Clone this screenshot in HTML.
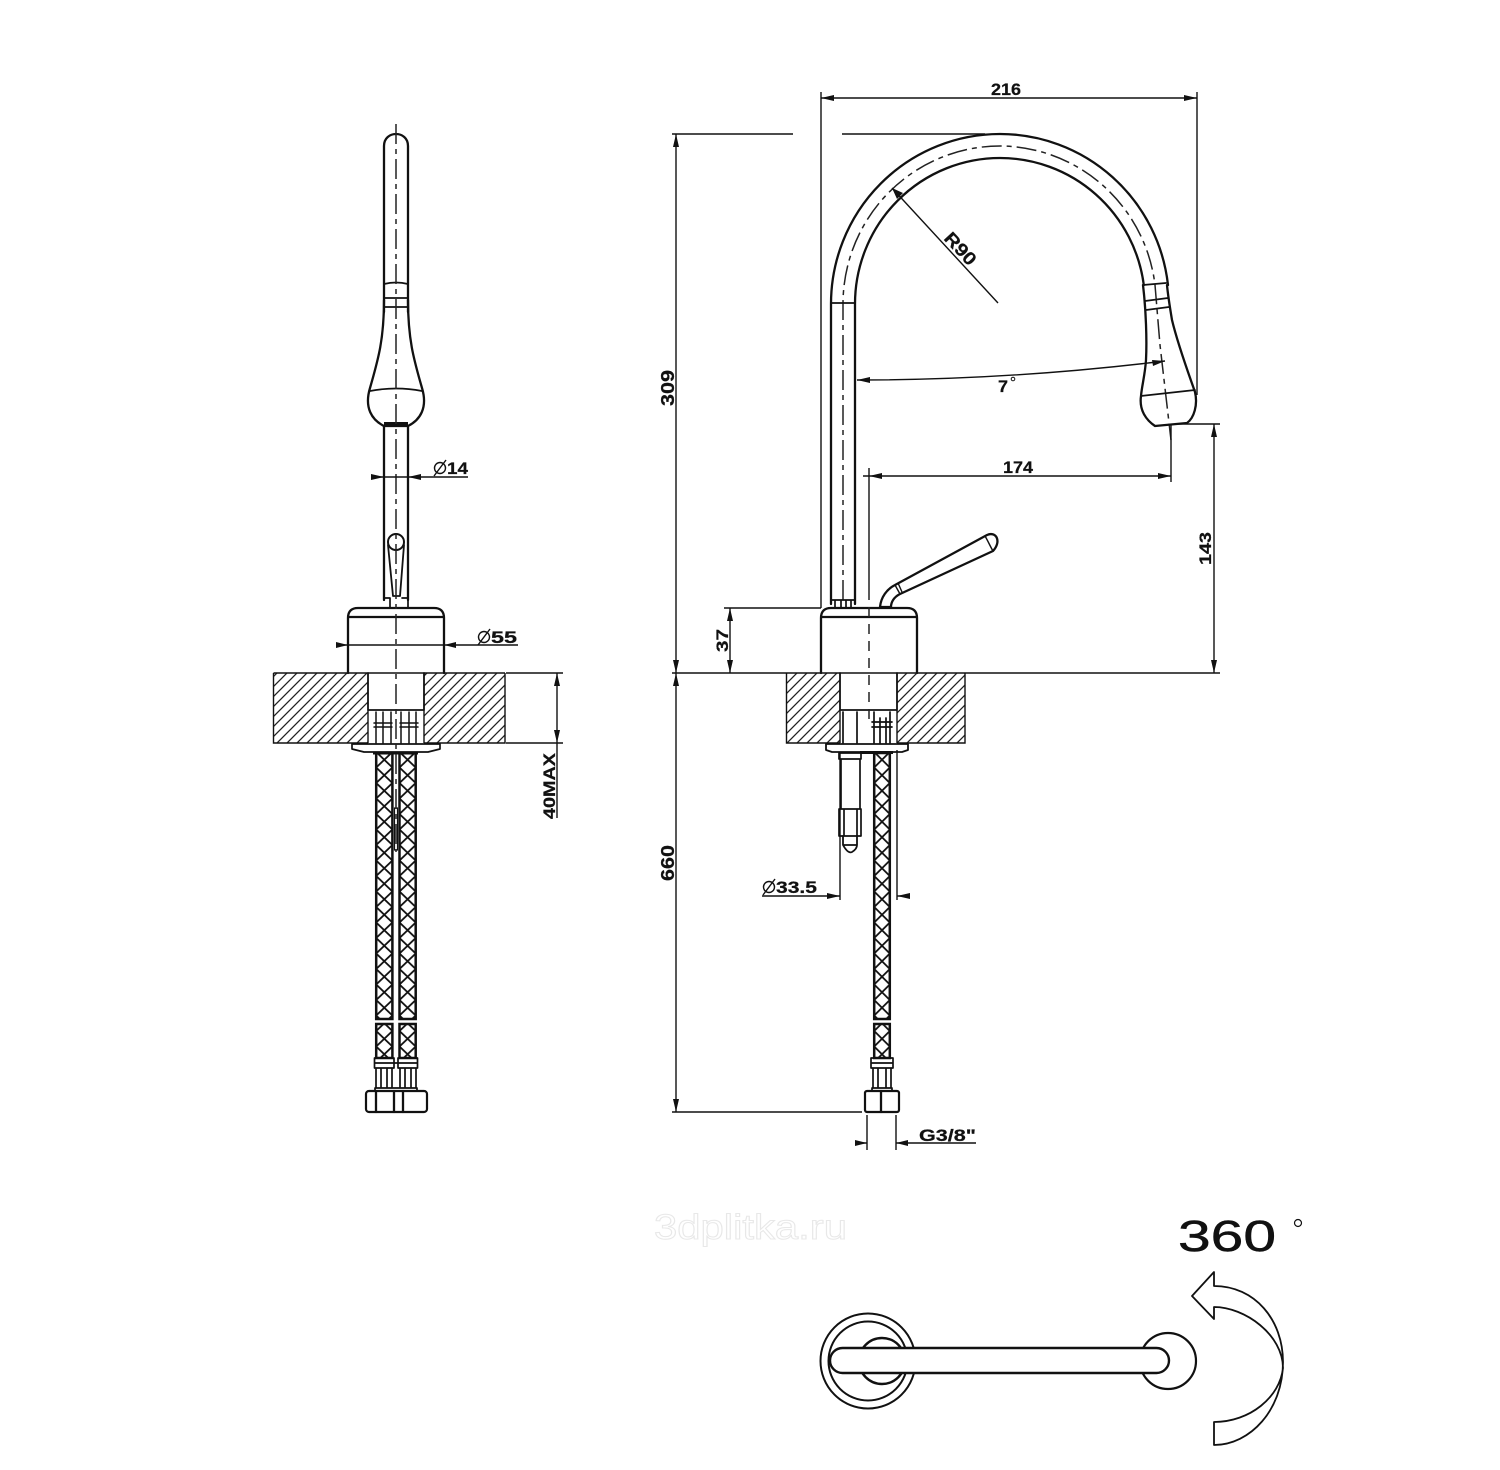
<!DOCTYPE html>
<html><head><meta charset="utf-8"><title>Drawing</title>
<style>html,body{margin:0;padding:0;background:#fff}svg{display:block}
text{font-family:"Liberation Sans",sans-serif;font-weight:bold;fill:#111;font-size:17px;stroke:#111;stroke-width:.25}
.k{fill:none;stroke:#111;stroke-width:2.3;stroke-linejoin:round;stroke-linecap:round}
.t{fill:none;stroke:#111;stroke-width:1.4}
.c{fill:none;stroke:#222;stroke-width:1.5;stroke-dasharray:20 5 5 5}
.d{fill:none;stroke:#222;stroke-width:1.5;stroke-dasharray:10 7}
.a{fill:#111;stroke:none}
</style></head><body>
<svg xmlns="http://www.w3.org/2000/svg" width="1500" height="1470" viewBox="0 0 1500 1470">
<defs>
<pattern id="h" width="10" height="10" patternUnits="userSpaceOnUse"><path d="M-2 12L12 -2M-2 2L2 -2M8 12L12 8" stroke="#222" stroke-width="1.3"/></pattern>
<pattern id="p1" x="376.200" y="752" width="16.200" height="15.500" patternUnits="userSpaceOnUse"><path d="M0 0L16.200 15.500M16.200 0L0 15.500" stroke="#111" stroke-width="1.8"/></pattern>
<pattern id="p2" x="399.500" y="752" width="16.200" height="15.500" patternUnits="userSpaceOnUse"><path d="M0 0L16.200 15.500M16.200 0L0 15.500" stroke="#111" stroke-width="1.8"/></pattern>
<pattern id="p3" x="874.200" y="752" width="15.600" height="15.500" patternUnits="userSpaceOnUse"><path d="M0 0L15.600 15.500M15.600 0L0 15.500" stroke="#111" stroke-width="1.8"/></pattern>
</defs>

<!-- LEFT VIEW -->
<path class="k" d="M384 312V146C384 130 408 130 408 146V312"/>
<path class="k" d="M384 284Q396 281 408 284M384 298H408M384 307H408" style="stroke-width:1.7"/>
<path class="k" d="M384 300C384 340 378 360 370 388C364 408 372 420 384 426H408C420 420 428 408 422 388C414 360 408 340 408 300"/>
<path class="k" d="M370 391Q396 386 422 391" style="stroke-width:1.7"/>
<path d="M384 424H408" stroke="#111" stroke-width="4"/>
<path class="k" d="M384 426V600M408 426V600"/>
<path class="k" d="M384 598H390V608M402 598H408V608M390 598V608" style="stroke-width:1.7"/>
<circle cx="396" cy="542" r="8" fill="#fff" stroke="#111" stroke-width="2"/>
<path class="k" d="M388 545L393 596H400L404 545" style="stroke-width:1.8"/>
<path class="k" d="M348 673V618Q348 608 358 608H434Q444 608 444 618V673M348 617H444"/>
<rect x="273.500" y="673" width="94.500" height="70" fill="url(#h)"/>
<rect x="424" y="673" width="81" height="70" fill="url(#h)"/>
<path class="t" d="M273.500 673V743H368M424 743H505V673M273.500 673H505"/>
<path class="k" d="M368 673V710H424V673" style="stroke-width:1.8"/>
<path class="t" d="M368 710V743M424 710V743"/>
<path class="k" d="M376 712V743M383 712V743M391 712V743M401 712V743M409 712V743M416 712V743M374 723H392M374 727H392M400 723H418M400 727H418" style="stroke-width:1.5"/>
<path class="k" d="M352 744H440V749L428 752H364L352 749Z" style="stroke-width:1.7;fill:#fff"/>
<path d="M373 753H418" stroke="#111" stroke-width="3"/>
<rect x="376.200" y="753" width="16.200" height="266" fill="url(#p1)" stroke="#111" stroke-width="2.500"/>
<rect x="399.500" y="753" width="16.200" height="266" fill="url(#p2)" stroke="#111" stroke-width="2.500"/>
<rect x="376.200" y="1024" width="16.200" height="34" fill="url(#p1)" stroke="#111" stroke-width="2.500"/>
<rect x="399.500" y="1024" width="16.200" height="34" fill="url(#p2)" stroke="#111" stroke-width="2.500"/>
<path class="k" d="M374.500 1058H394V1068H374.500ZM398 1058H417.500V1068H398ZM375 1063H417M376 1068V1088M381 1068V1088M387 1068V1088M392 1068V1088M400 1068V1088M405 1068V1088M411 1068V1088M416 1068V1088M375 1088H417V1091H375Z" style="stroke-width:1.7"/>
<rect x="366" y="1091" width="61" height="21" rx="3" fill="#fff" stroke="#111" stroke-width="2.200"/>
<path class="k" d="M376 1091V1112M394 1091V1112M403 1091V1112"/>
<rect x="394.500" y="808" width="3" height="42" fill="#fff" stroke="#111" stroke-width="1.200"/>
<path class="c" d="M396 124V852"/>

<!-- RIGHT VIEW -->
<path class="k" d="M831 604V304A169 170 0 0 1 1000 134A169 170 0 0 1 1168 285M855 604V304A145 146 0 0 1 1000 158A145 146 0 0 1 1143.800 285"/>
<path class="c" d="M843 600V304A157 158 0 0 1 1000 146A157 158 0 0 1 1155 285L1160 345L1171 440"/>
<path class="k" d="M831 303H855" style="stroke-width:1.7"/>
<path class="k" d="M1143 285L1166 283M1145 301L1168 298M1146 310L1169 307" style="stroke-width:1.7"/>
<path class="k" d="M1143 285C1146 310 1147 340 1146 360C1145 375 1142 385 1141 396C1139 410 1146 420 1155 426L1187 423C1194 418 1198 405 1195 392C1188 372 1178 345 1172 320C1170 308 1168 296 1167 285"/>
<path class="k" d="M1141 396L1195 390" style="stroke-width:1.7"/>
<path class="k" d="M831 600H855M835 600V607M851 600V607M841 600V607M846 600V607" style="stroke-width:1.7"/>
<path class="k" d="M821 673V618Q821 608 831 608H907Q917 608 917 618V673M821 617H917"/>
<path class="k" d="M880 607C881 597 887 589 895 585L987 535C996 531 1002 541 993 551L900 594C894 597 891 602 891 607Z"/>
<path class="t" d="M895 585L900 594M898 583L902 592M985 536C988 541 990 546 993 551"/>
<rect x="786.500" y="673" width="53.500" height="70" fill="url(#h)"/>
<rect x="897" y="673" width="68" height="70" fill="url(#h)"/>
<path class="t" d="M786.500 673V743H840M897 743H965V673"/>
<path class="k" d="M840 673V710H897V673" style="stroke-width:1.8"/>
<path class="t" d="M840 710V743M897 710V743"/>
<path class="k" d="M843 712V743M857 712V743M874 712V743M880 718V743M886 718V743M890 712V743M872 722H892M872 727H892" style="stroke-width:1.7"/>
<path class="k" d="M826 744H908V750L902 752H832L826 750Z" style="stroke-width:1.8;fill:#fff"/>
<path d="M860 752.500H893" stroke="#111" stroke-width="3"/>
<rect x="874.200" y="753" width="15.600" height="266" fill="url(#p3)" stroke="#111" stroke-width="2.500"/>
<rect x="874.200" y="1024" width="15.600" height="34" fill="url(#p3)" stroke="#111" stroke-width="2.500"/>
<path class="k" d="M871 1058H893V1068H871ZM871 1063H893M873 1068V1088M878 1068V1088M886 1068V1088M891 1068V1088M872 1088H892V1091H872Z" style="stroke-width:1.7"/>
<rect x="865" y="1091" width="34" height="21" rx="2" fill="#fff" stroke="#111" stroke-width="2.200"/>
<path class="k" d="M881 1091V1112"/>
<path class="k" d="M839 753H861V759H839ZM841 759V809M860 759V809M839 809H861V836H839ZM844 809V836M857 809V836" style="stroke-width:1.7"/>
<path class="k" d="M843 836V845Q848 854 852 852Q857 849 857 845V836M843 845H857" style="stroke-width:1.8"/>
<path class="d" d="M869 590V720"/>

<!-- DIMENSIONS RIGHT -->
<g class="t">
<path d="M821 92V608M1197 92V395M821 98H1197"/>
<path d="M672 134H793M842 134H985M676 134V1112M672 673H1220M672 1112H862"/>
<path d="M724 608H821M730 608V673"/>
<path d="M1175 424H1220M1214 424V673"/>
<path d="M869 468V590M1171 425V482M863 476H1171"/>
<path d="M857 380Q1010 380 1165 361"/>
<path d="M892 188L998 303"/>
<path d="M840 752V900M897 750V900M762 896H840M897 896H910"/>
<path d="M867 1115V1150M896 1115V1150M855 1143H867M896 1143H976"/>
<path d="M371 477H468M336 645H518M506 673H563M506 743H563M557 673V818"/>
</g>
<g class="a">
<path d="M821 98L834 95V101ZM1197 98L1184 95V101Z"/>
<path d="M676 134L673 147H679ZM676 673L673 660H679ZM676 673L673 686H679ZM676 1112L673 1099H679Z"/>
<path d="M730 608L727 621H733ZM730 673L727 660H733Z"/>
<path d="M1214 424L1211 437H1217ZM1214 673L1211 660H1217Z"/>
<path d="M869 476L882 473V479ZM1171 476L1158 473V479Z"/>
<path d="M857 380L870 377V383ZM1165 361L1152 360 1153 366Z"/>
<path d="M892 188L903 193 897 199Z"/>
<path d="M840 896L827 893V899ZM897 896L910 893V899Z"/>
<path d="M867 1143L855 1140V1146ZM896 1143L908 1140V1146Z"/>
<path d="M384 477L371 474V480ZM408 477L421 474V480Z"/>
<path d="M348 645L336 642V648ZM444 645L456 642V648Z"/>
<path d="M557 673L554 686H560ZM557 743L554 730H560Z"/>
</g>
<g stroke="#111" stroke-width="1.400" fill="none">
<circle cx="440" cy="468" r="5.500"/><path d="M434 476L446 460"/>
<circle cx="484" cy="637" r="5.500"/><path d="M478 645L490 629"/>
<circle cx="769" cy="887" r="5.500"/><path d="M763 895L775 879"/>
</g>
<text x="991" y="95" textLength="30" lengthAdjust="spacingAndGlyphs">216</text>
<text x="1003" y="473" textLength="30" lengthAdjust="spacingAndGlyphs">174</text>
<text x="447" y="474" textLength="21" lengthAdjust="spacingAndGlyphs">14</text>
<text x="491" y="643" textLength="26" lengthAdjust="spacingAndGlyphs">55</text>
<text x="776" y="893" textLength="41" lengthAdjust="spacingAndGlyphs">33.5</text>
<text x="919" y="1141" textLength="57" lengthAdjust="spacingAndGlyphs">G3/8"</text>
<text x="998" y="392" textLength="10" lengthAdjust="spacingAndGlyphs">7</text>
<circle cx="1013" cy="379" r="1.800" fill="none" stroke="#111" stroke-width="1"/>
<text transform="translate(674 406) rotate(-90)" textLength="36" lengthAdjust="spacingAndGlyphs" style="font-size:18px">309</text>
<text transform="translate(674 881) rotate(-90)" textLength="36" lengthAdjust="spacingAndGlyphs" style="font-size:18px">660</text>
<text transform="translate(728 652) rotate(-90)" textLength="23" lengthAdjust="spacingAndGlyphs">37</text>
<text transform="translate(1211 565) rotate(-90)" textLength="33" lengthAdjust="spacingAndGlyphs">143</text>
<text transform="translate(555 819) rotate(-90)" textLength="66" lengthAdjust="spacingAndGlyphs">40MAX</text>
<text transform="translate(943 239) rotate(47)" textLength="38" lengthAdjust="spacingAndGlyphs" style="font-size:18px">R90</text>

<!-- WATERMARK -->
<text x="654" y="1239" textLength="193" lengthAdjust="spacingAndGlyphs" style="fill:#fff;stroke:#e8e8e8;stroke-width:1;font-weight:normal;font-size:35px">3dplitka.ru</text>

<!-- TOP VIEW -->
<circle cx="868" cy="1361" r="47.500" fill="#fff" stroke="#111" stroke-width="2"/>
<circle cx="868" cy="1361" r="39.500" fill="#fff" stroke="#111" stroke-width="2"/>
<circle cx="882" cy="1361" r="23" fill="#fff" stroke="#111" stroke-width="2.400"/>
<circle cx="1168" cy="1361" r="28" fill="#fff" stroke="#111" stroke-width="2.200"/>
<rect x="830" y="1348" width="339" height="25" rx="12.500" fill="#fff" stroke="#111" stroke-width="2.400"/>
<path class="k" d="M1214 1286V1272L1192 1296L1214 1319V1307C1245 1307 1283 1335 1283 1368C1280 1397 1250 1422 1214 1422V1445C1250 1445 1283 1410 1283 1362C1283 1320 1255 1286 1214 1286Z" style="stroke-width:1.8"/>
<text x="1178" y="1251" textLength="98" lengthAdjust="spacingAndGlyphs" style="font-size:44px;font-weight:normal;stroke-width:.5">360</text>
<circle cx="1298" cy="1223" r="3.500" fill="none" stroke="#111" stroke-width="1.200"/>
</svg>
</body></html>
